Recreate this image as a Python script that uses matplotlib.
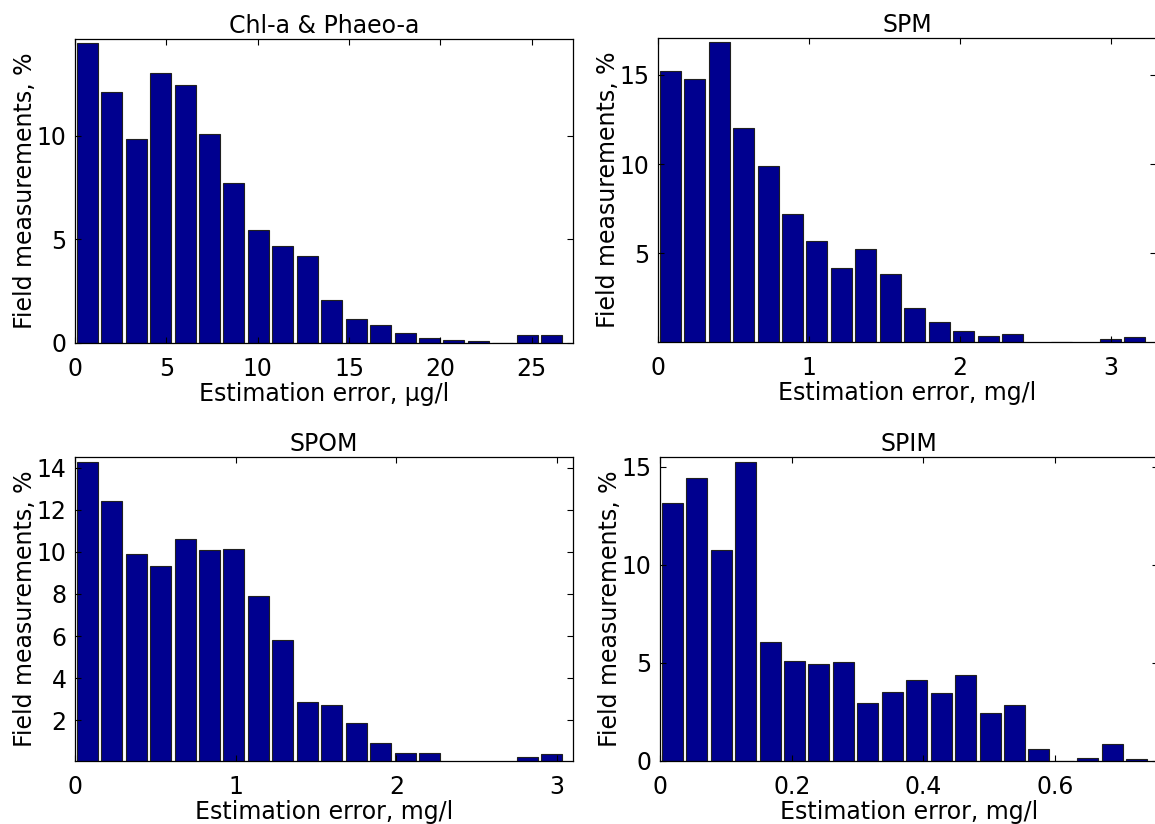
#!/usr/bin/env python3
import numpy
import matplotlib
matplotlib.use('Agg')
import matplotlib.pyplot as plt

plt.rcParams['font.family'] = ['DejaVu Sans']
plt.rcParams['font.size'] = 17

# percent of field measurements in each of the 20 error bins
chl_pct = [14.5, 12.13, 9.84, 13.03, 12.44, 10.08, 7.73, 5.45, 4.66, 4.18,
           2.06, 1.16, 0.85, 0.5, 0.26, 0.13, 0.08, 0.0, 0.39, 0.39]
spm_pct = [15.2, 14.77, 16.81, 11.99, 9.89, 7.2, 5.68, 4.2, 5.23, 3.86,
           1.95, 1.16, 0.69, 0.41, 0.49, 0.0, 0.06, 0.0, 0.24, 0.34]
spom_pct = [14.26, 12.39, 9.9, 9.31, 10.61, 10.07, 10.13, 7.88, 5.81, 2.85,
            2.73, 1.86, 0.92, 0.45, 0.45, 0.0, 0.0, 0.0, 0.26, 0.38]
spim_pct = [13.16, 14.46, 10.75, 15.26, 6.07, 5.12, 4.97, 5.03, 2.94, 3.5,
            4.15, 3.45, 4.4, 2.43, 2.87, 0.6, 0.0, 0.15, 0.85, 0.09]

# bin widths (error units)
chl_bin = 1.338
spm_bin = 0.1619
spom_bin = 0.1522
spim_bin = 0.03713

titles = ['Chl-a & Phaeo-a', 'SPM', 'SPOM', 'SPIM']
xlabels = ['Estimation error, \u00b5g/l', 'Estimation error, mg/l',
           'Estimation error, mg/l', 'Estimation error, mg/l']
ylabel = 'Field measurements, %'

chl_xticks = [0, 5, 10, 15, 20, 25]
spm_xticks = [0, 1, 2, 3]
spom_xticks = [0, 1, 2, 3]
spim_xticks = [0, 0.2, 0.4, 0.6]
spim_xticklabels = ['0', '0.2', '0.4', '0.6']

chl_yticks = [0, 5, 10]
spm_yticks = [5, 10, 15]
spom_yticks = [2, 4, 6, 8, 10, 12, 14]
spim_yticks = [0, 5, 10, 15]

W, H = 1155, 824
fig = plt.figure(figsize=(W / 100., H / 100.), dpi=100)


def make_axes(left, top, w=498, h=304):
    return fig.add_axes([left / W, 1 - (top + h) / H, w / W, h / H])


def hist_panel(ax, pct, binw, ylim, xticks, yticks, title, xlabel, xticklabels=None):
    n = len(pct)
    centers = (numpy.arange(n) + 0.5) * binw
    ax.bar(centers, pct, width=0.86 * binw, color='#00008f',
           edgecolor='#202020', linewidth=0.8)
    ax.set_xlim(0, n * binw * 498. / 489.)
    ax.set_ylim(*ylim)
    ax.set_xticks(xticks)
    if xticklabels is not None:
        ax.set_xticklabels(xticklabels)
    ax.set_yticks(yticks)
    ax.tick_params(direction='in', top=True, right=True, length=4, width=0.8)
    ax.tick_params(axis='x', pad=10)
    ax.tick_params(axis='y', pad=6)
    for s in ax.spines.values():
        s.set_linewidth(0.9)
    ax.set_title(title, fontsize=17, pad=4)
    ax.set_xlabel(xlabel, labelpad=0.5)
    ax.set_ylabel(ylabel, labelpad=0)


ax1 = make_axes(75, 39)
hist_panel(ax1, chl_pct, chl_bin, (0, 14.68), chl_xticks, chl_yticks, titles[0], xlabels[0])

ax2 = make_axes(658, 38)
hist_panel(ax2, spm_pct, spm_bin, (0.05, 17.05), spm_xticks, spm_yticks, titles[1], xlabels[1])

ax3 = make_axes(75, 457)
hist_panel(ax3, spom_pct, spom_bin, (0.07, 14.5), spom_xticks, spom_yticks, titles[2], xlabels[2])

ax4 = make_axes(660, 457)
hist_panel(ax4, spim_pct, spim_bin, (0, 15.51), spim_xticks, spim_yticks, titles[3], xlabels[3],
           spim_xticklabels)

plt.savefig('out.png', dpi=100)
